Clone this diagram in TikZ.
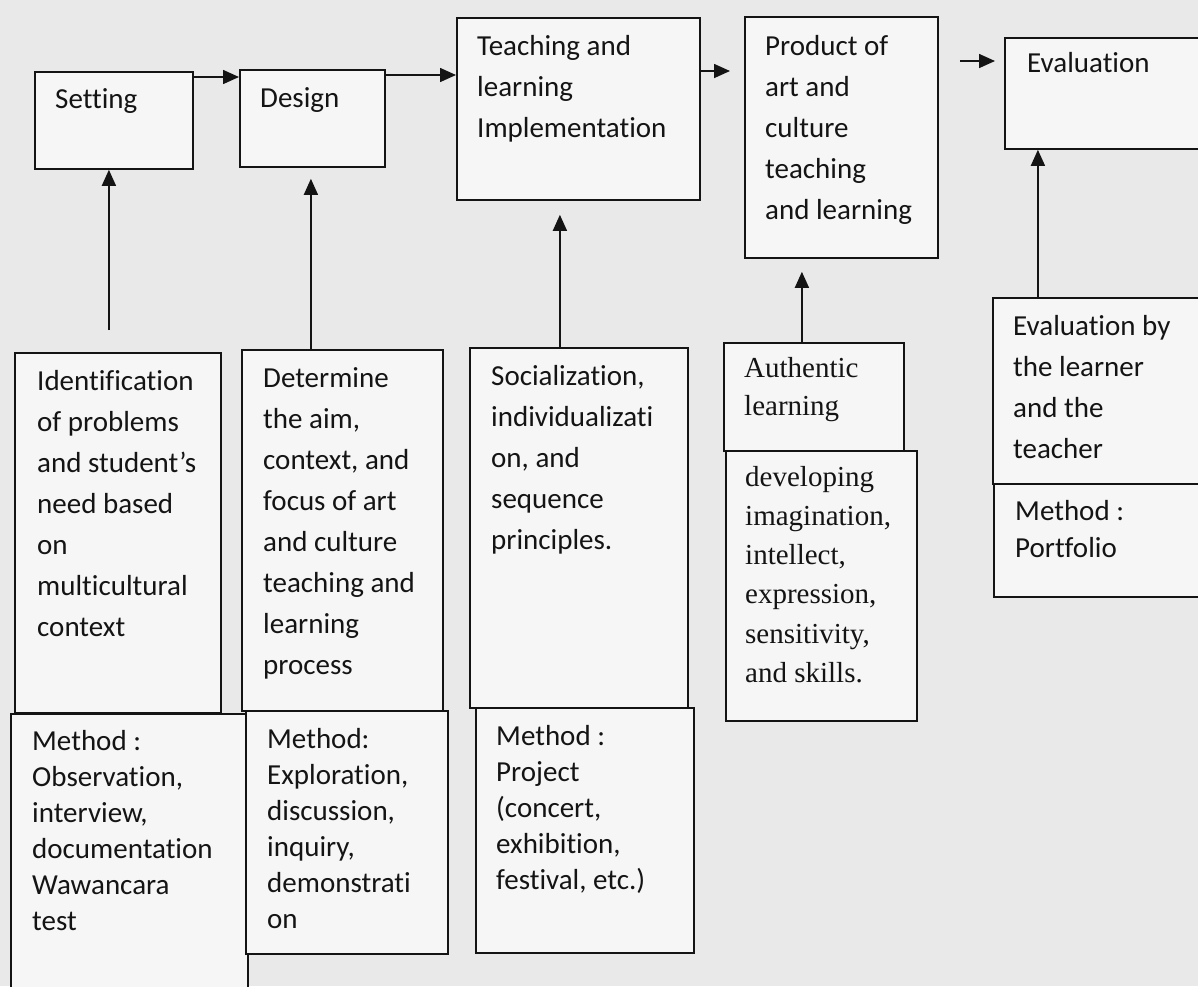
\documentclass[tikz,border=0pt]{standalone}
\usepackage{fontspec}
\newfontfamily\calib[Ligatures=NoCommon]{Carlito}
\newfontfamily\tnr{Liberation Serif}
\usetikzlibrary{arrows.meta}
\definecolor{bg}{RGB}{233,233,233}
\definecolor{boxfill}{RGB}{246,246,246}
\definecolor{ink}{RGB}{20,20,20}
\tikzset{
  bx/.style={draw=ink, fill=boxfill, line width=1.8pt, inner sep=0pt, anchor=north west},
  txt/.style={anchor=north west, inner sep=0pt, align=left, text=ink, font=\calib\fontsize{29}{#1}\selectfont},
  txt/.default=41,
  stxt/.style={anchor=north west, inner sep=0pt, align=left, text=ink, font=\tnr\fontsize{29}{#1}\selectfont},
  stxt/.default=38,
  arr/.style={draw=ink, line width=1.6pt, -{Triangle[length=16pt,width=14pt]}}
}
\begin{document}
\begin{tikzpicture}[x=1pt,y=-1pt]
\useasboundingbox (0,0) rectangle (1198,986);
\fill[bg] (0,0) rectangle (1198,986);
\clip (0,0) rectangle (1198,986);
% top row
\node[bx, minimum width=158pt, minimum height=97pt] (setting) at (34,71) {};
\node[bx, minimum width=145pt, minimum height=97pt] (design) at (239,69) {};
\node[bx, minimum width=243pt, minimum height=182pt] (teach) at (456,17) {};
\node[bx, minimum width=193pt, minimum height=241pt] (product) at (744,16) {};
\node[bx, minimum width=211pt, minimum height=111pt] (eval) at (1004,37) {};
% lower boxes
\node[bx, minimum width=206pt, minimum height=360pt] (ident) at (14,352) {};
\node[bx, minimum width=201pt, minimum height=361pt] (determine) at (241,349) {};
\node[bx, minimum width=218pt, minimum height=360pt] (social) at (469,347) {};
\node[bx, minimum width=180pt, minimum height=108pt] (authentic) at (723,342) {};
\node[bx, minimum width=191pt, minimum height=270pt] (developing) at (725,450) {};
\node[bx, minimum width=223pt, minimum height=186pt] (evalby) at (992,297) {};
\node[bx, minimum width=222pt, minimum height=113pt] (portfolio) at (993,483) {};
\node[bx, minimum width=237pt, minimum height=290pt] (obs) at (10,713) {};
\node[bx, minimum width=202pt, minimum height=243pt] (expl) at (245,710) {};
\node[bx, minimum width=218pt, minimum height=245pt] (project) at (475,707) {};
% texts
\node[txt] (settingt) at (55,79.3) {\strut Setting};
\node[txt] (designt) at (260,78.3) {\strut Design};
\node[txt] (teacht) at (477,26.3) {\strut Teaching and\\learning\\Implementation};
\node[txt] (productt) at (765,26.3) {\strut Product of\\art and\\culture\\teaching\\and learning};
\node[txt] (evalt) at (1027,43.3) {\strut Evaluation};
\node[txt] (identt) at (37,361.3) {\strut Identification\\of problems\\and student’s\\need based\\on\\multicultural\\context};
\node[txt] (determinet) at (263,358.3) {\strut Determine\\the aim,\\context, and\\focus of  art\\and culture\\teaching and\\learning\\process};
\node[txt] (socialt) at (491,356.3) {\strut Socialization,\\individualizati\\on, and\\sequence\\principles.};
\node[stxt=38] (authentict) at (744,350.4) {\strut Authentic\\learning};
\node[stxt=39.2] (developingt) at (745,458.56) {\strut developing\\imagination,\\intellect,\\expression,\\sensitivity,\\and skills.};
\node[txt] (evalbyt) at (1013,306.3) {\strut Evaluation by\\the learner\\and the\\teacher};
\node[txt=37] (portfoliot) at (1015,494.1) {\strut Method :\\Portfolio};
\node[txt=36] (obst) at (32,724.8) {\strut Method :\\Observation,\\interview,\\documentation\\Wawancara\\test};
\node[txt=36] (explt) at (267,722.8) {\strut Method:\\Exploration,\\discussion,\\inquiry,\\demonstrati\\on};
\node[txt=36] (projectt) at (496,719.8) {\strut Method :\\Project\\(concert,\\exhibition,\\festival, etc.)};
% horizontal arrows
\coordinate (a1) at ([yshift=-8pt]design.north west);
\draw[arr] (setting.east |- a1) -- (a1);
\coordinate (a2) at ([yshift=-6pt]design.north east);
\draw[arr] (a2) -- (teach.west |- a2);
\coordinate (a3) at ([yshift=-54pt]teach.north east);
\draw[arr, shorten >=14pt] (a3) -- (product.west |- a3);
\coordinate (a4) at ([yshift=-24pt]eval.north west);
\draw[arr, shorten <=21pt, shorten >=9pt] (product.east |- a4) -- (a4);
% vertical arrows
\coordinate (b1) at ([xshift=-5pt]setting.south);
\draw[arr, shorten <=22pt] (ident.north -| b1) -- (b1);
\coordinate (b2) at ([xshift=-1.5pt]design.south);
\draw[arr, shorten >=11pt] (determine.north -| b2) -- (b2);
\coordinate (b3) at ([xshift=-18.5pt]teach.south);
\draw[arr, shorten >=14pt] (social.north -| b3) -- (b3);
\coordinate (b4) at ([xshift=-39.5pt]product.south);
\draw[arr, shorten >=13pt] (authentic.north -| b4) -- (b4);
\coordinate (b5) at ([xshift=-72.5pt]eval.south);
\draw[arr] (evalby.north -| b5) -- (b5);
\end{tikzpicture}
\end{document}
